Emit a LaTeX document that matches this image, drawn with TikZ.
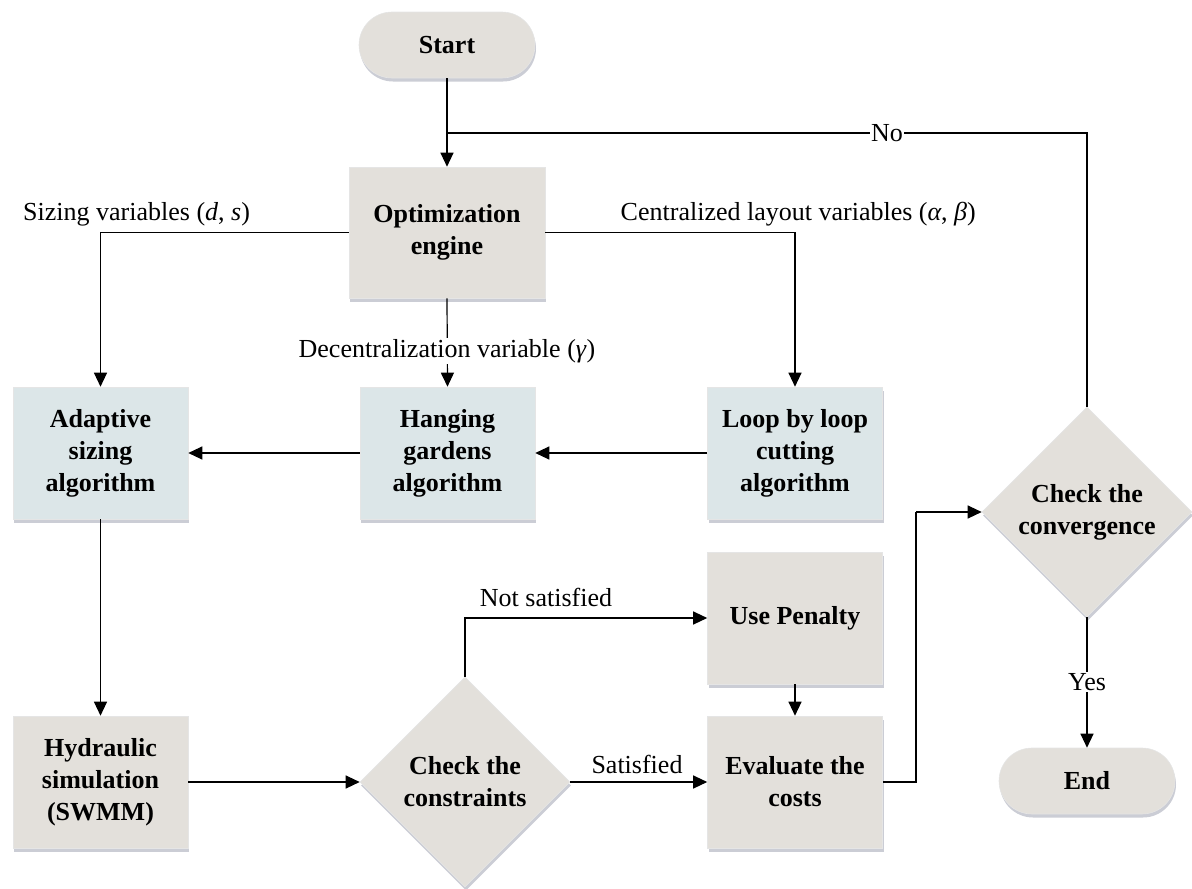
\documentclass[tikz,border=0pt]{standalone}
\usepackage{fontspec}
\setmainfont{Liberation Serif}
\usetikzlibrary{arrows.meta,shapes.geometric,shadows}
\definecolor{boxgrey}{HTML}{E3E0DB}
\definecolor{boxblue}{HTML}{DCE6E8}
\definecolor{shadowc}{HTML}{BEC0CA}
\begin{document}
\begin{tikzpicture}[x=1pt,y=-1pt,
  font=\fontsize{26}{32}\selectfont,
  base/.style={draw=black!10, line width=0.6pt, align=center,
    font=\fontsize{26}{32}\selectfont\bfseries, inner sep=0pt,
    drop shadow={shadow xshift=1pt, shadow yshift=-3.5pt, fill=shadowc, opacity=0.8}},
  greybox/.style={base, rectangle, fill=boxgrey, minimum width=175pt, minimum height=132pt},
  bluebox/.style={greybox, fill=boxblue},
  terminal/.style={base, rectangle, rounded corners=33pt, fill=boxgrey,
    minimum width=176pt, minimum height=66pt},
  decision/.style={base, diamond, aspect=1, fill=boxgrey,
    minimum width=210pt, minimum height=210pt},
  link/.style={line width=1.2pt, -{Triangle[length=14pt,width=13pt]}},
  plain/.style={line width=1.2pt},
  lbl/.style={inner sep=1pt, fill=white}
]
\useasboundingbox (0,0) rectangle (1192,889);

% process blocks
\node[terminal] (start) at (447,45) {Start};
\node[greybox, minimum width=196pt, minimum height=131pt] (opt) at (447,232.5) {Optimization\\engine};
\node[bluebox] (adapt) at (100.5,453) {Adaptive\\sizing\\algorithm};
\node[bluebox] (hang) at (447.5,453) {Hanging\\gardens\\algorithm};
\node[bluebox] (loop) at (795,453) {Loop by loop\\cutting\\algorithm};
\node[greybox] (hyd) at (100.5,782) {Hydraulic\\simulation\\(SWMM)};
\node[decision] (cons) at (465,782) {Check the\\constraints};
\node[greybox] (pen) at (795,618) {Use Penalty};
\node[greybox] (eval) at (795,782) {Evaluate the\\costs};
\node[decision] (conv) at (1087,512) {Check the\\convergence};
\node[terminal] (end) at (1087,781) {End};

% helper points for the feedback loops
\coordinate (nojoin) at (447,133);
\coordinate (bend) at (916,512);

% connectors
\draw[link] (start) -- (opt);
\draw[plain] (conv.north) |- (nojoin);
\draw[link] (opt.west) -| (adapt.north);
\draw[link] (opt.east) -| (loop.north);
\draw[link] (opt.south) -- (hang.north);
\draw[link] (loop.west) -- (hang.east);
\draw[link] (hang.west) -- (adapt.east);
\draw[link] (adapt.south) -- (hyd.north);
\draw[link] (hyd.east) -- (cons.west);
\draw[link] (cons.north) |- (pen.west);
\draw[link] (cons.east) -- (eval.west);
\draw[link] (pen.south) -- (eval.north);
\draw[plain] (eval.east) -| (bend);
\draw[link] (bend) -- (conv.west);
\draw[link] (conv.south) -- (end.north);

% connector labels
\node[lbl] (lno) at (887,133) {No};
\node[anchor=base west, inner sep=0pt] (lsize) at (23,220) {Sizing variables (\textit{d}, \textit{s})};
\node[anchor=base east, inner sep=0pt] (lcent) at (976,220) {Centralized layout variables (\textit{α}, \textit{β})};
\node[lbl] (ldec) at (447,351) {Decentralization variable (\textit{γ})};
\node[inner sep=0pt] (lnot) at (546,597) {Not satisfied};
\node[inner sep=0pt] (lsat) at (637,764) {Satisfied};
\node[lbl] (lyes) at (1087,682) {Yes};
\end{tikzpicture}
\end{document}
